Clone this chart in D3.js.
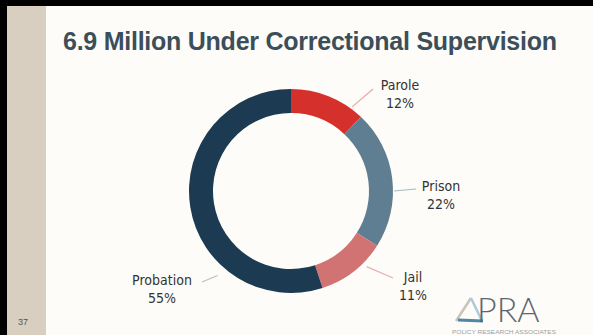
<!DOCTYPE html>
<html>
<head>
<meta charset="utf-8">
<script src="https://cdn.jsdelivr.net/npm/d3@7"></script>
<style>
  html, body { margin: 0; padding: 0; background: #fdfcf8; }
  svg { display: block; position: absolute; left: 0; top: 0; }
  .edge { position: absolute; background: #000; }
  .lbl { font-family: "DejaVu Sans Condensed", "DejaVu Sans", sans-serif; font-size: 14px; fill: #333; text-anchor: middle; }
</style>
</head>
<body>
<svg width="593" height="335"></svg>
<div class="edge" style="left:0;top:0;width:593px;height:6px"></div>
<div class="edge" style="left:0;top:0;width:7px;height:335px"></div>
<script>
const categories = ['Parole', 'Prison', 'Jail', 'Probation']
const shares = [12, 22, 11, 55]
const colors = ['#d6302c', '#5f7e91', '#d27373', '#1c3a52']
const lineColors = ['#eaa6a6', '#a9bac4', '#e4b0b0', '#b8bfc6']

const svg = d3.select('svg')
const cx = 291, cy = 191
const outerR = 102, innerR = 78

// slide background and side band
svg.append('rect').attr('width', 593).attr('height', 335).attr('fill', '#fdfcf8')
svg.append('rect').attr('x', 7).attr('y', 6).attr('width', 39).attr('height', 329).attr('fill', '#d9cfc1')

svg.append('text')
  .attr('x', 63).attr('y', 50)
  .attr('textLength', 494).attr('lengthAdjust', 'spacing')
  .style('font-family', '"Liberation Sans", Arial, sans-serif')
  .style('font-weight', 'bold').style('font-size', '25px')
  .attr('fill', '#3c4e59')
  .text('6.9 Million Under Correctional Supervision')

svg.append('text')
  .attr('x', 18).attr('y', 325)
  .style('font-family', '"Liberation Sans", Arial, sans-serif')
  .style('font-size', '9px').attr('fill', '#555')
  .text('37')

// donut
const pie = d3.pie().sort(null).value(d => d)
const arc = d3.arc().innerRadius(innerR).outerRadius(outerR)
const arcs = pie(shares)

const chart = svg.append('g').attr('transform', `translate(${cx},${cy})`)
chart.selectAll('path')
  .data(arcs)
  .enter()
  .append('path')
  .attr('d', arc)
  .attr('fill', (d, i) => colors[i])

// leader lines and labels (hand placed, like the slide)
const leader = [
  {a: 36, r0: 104, end: [373, 89], text: [400, 90]},
  {a: 90, r0: 103, end: [416, 189], text: [441, 191]},
  {a: 135, r0: 107, end: [393, 278], text: [413, 282]},
  {a: 221, r0: 112, end: [202, 282], text: [162, 285]}
]
const polar = (a, r) => [cx + r * Math.sin(a * Math.PI / 180), cy - r * Math.cos(a * Math.PI / 180)]

svg.selectAll('line.leader')
  .data(leader)
  .enter()
  .append('line')
  .attr('class', 'leader')
  .attr('x1', d => polar(d.a, d.r0)[0])
  .attr('y1', d => polar(d.a, d.r0)[1])
  .attr('x2', d => d.end[0])
  .attr('y2', d => d.end[1])
  .attr('stroke', (d, i) => lineColors[i])
  .attr('stroke-width', 1.2)

const labels = svg.selectAll('g.lblgroup')
  .data(leader)
  .enter()
  .append('g')
  .attr('class', 'lblgroup')
labels.append('text').attr('class', 'lbl')
  .attr('x', d => d.text[0]).attr('y', d => d.text[1])
  .text((d, i) => categories[i])
labels.append('text').attr('class', 'lbl')
  .attr('x', d => d.text[0]).attr('y', d => d.text[1] + 18)
  .text((d, i) => shares[i] + '%')

// PRA logo
const logo = svg.append('g')
logo.append('line').attr('x1', 456).attr('y1', 321).attr('x2', 471).attr('y2', 298)
  .attr('stroke', '#c9c4b8').attr('stroke-width', 2.5)
logo.append('line').attr('x1', 471).attr('y1', 298).attr('x2', 482).attr('y2', 321)
  .attr('stroke', '#a9cbe0').attr('stroke-width', 2.5)
logo.append('line').attr('x1', 458).attr('y1', 320).attr('x2', 483).attr('y2', 321)
  .attr('stroke', '#4f88a6').attr('stroke-width', 3)
logo.append('text')
  .attr('x', 477).attr('y', 322)
  .style('font-family', 'Lato, "Liberation Sans", sans-serif')
  .style('font-weight', 300).style('font-size', '34px')
  .attr('fill', '#5d6770')
  .text('PRA')
logo.append('text')
  .attr('x', 452).attr('y', 334)
  .attr('textLength', 104).attr('lengthAdjust', 'spacingAndGlyphs')
  .style('font-family', '"Liberation Sans", sans-serif')
  .style('font-size', '5.5px').attr('fill', '#9aa1a6')
  .text('POLICY RESEARCH ASSOCIATES')
</script>
</body>
</html>
